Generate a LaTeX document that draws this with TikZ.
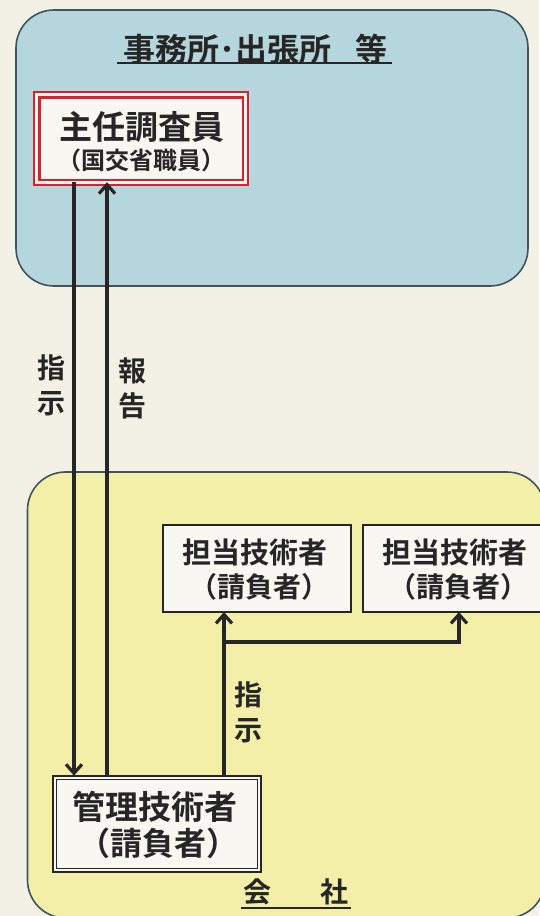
\documentclass[tikz,border=0pt]{standalone}
\usepackage{fontspec}
\setmainfont{Noto Sans CJK JP}[BoldFont={Noto Sans CJK JP Bold}]
\usetikzlibrary{arrows.meta}
\definecolor{paper}{HTML}{F3F1E6}
\definecolor{officebg}{HTML}{B4D6DC}
\definecolor{firmbg}{HTML}{F3EFA8}
\definecolor{regionln}{HTML}{3F545C}
\definecolor{redln}{HTML}{D8202E}
\definecolor{ink}{HTML}{262626}
\definecolor{boxfill}{HTML}{F8F7F2}
\tikzset{
  region/.style={rounded corners=38pt, line width=1.6pt, draw=regionln},
  person/.style={draw=ink, fill=boxfill, line width=2pt, inner sep=0pt},
  txt/.style={text=ink, inner sep=0pt, font=\bfseries\fontsize{#1}{#1}\selectfont},
  conn/.style={draw=ink, line width=3.6pt, -{Straight Barb[length=9pt,width=16pt,line width=3.2pt]}},
  vlabel/.style={align=center, inner sep=0pt, text=ink, font=\bfseries\fontsize{28}{35}\selectfont},
}
\begin{document}
\begin{tikzpicture}[x=1pt,y=-1pt]
\fill[paper] (0,0) rectangle (539,916);
\useasboundingbox (0,0) rectangle (539,916);
% regions
\draw[region, fill=officebg] (16,10) rectangle (528,286);
\draw[region, fill=firmbg] (27.5,472) rectangle (545,918);
% titles
\node[txt=32] (title) at (255,49) {事務所･出張所\hspace{24pt}等};
\draw[ink, line width=1.4pt] (117,63) -- (392,63);
\node[txt=28] (firm) at (296,892) {会\hspace{50pt}社};
\draw[ink, line width=1.4pt] (241,908) -- (351,908);
% chief investigator (double red frame)
\node[draw=redln, line width=2.4pt, fill=boxfill, minimum width=214pt, minimum height=93pt, inner sep=0pt] (chief) at (141,138.5) {};
\draw[redln, line width=2.4pt] ([xshift=6.5pt,yshift=-6.5pt]chief.north west) rectangle ([xshift=-6.5pt,yshift=6pt]chief.south east);
\node[txt=33] (chiefa) at (142,127) {主任調査員};
\node[txt=24] (chiefb) at (141,160) {（国交省職員）};
% manager (double black frame)
\node[person, line width=2.6pt, minimum width=208pt, minimum height=96pt] (mgr) at (157,824) {};
\draw[ink, line width=1.1pt] ([xshift=5pt,yshift=-5pt]mgr.north west) rectangle ([xshift=-5pt,yshift=5pt]mgr.south east);
\node[txt=33] (mgra) at (155,807) {管理技術者};
\node[txt=32] (mgrb) at (158,843) {（請負者）};
% engineers
\node[person, minimum width=188pt, minimum height=87pt] (eng1) at (257,568.5) {};
\node[txt=29] at (255,552) {担当技術者};
\node[txt=28] at (259,587) {（請負者）};
\node[person, minimum width=190pt, minimum height=87pt] (eng2) at (458,568.5) {};
\node[txt=29] at (455,552) {担当技術者};
\node[txt=28] at (458,587) {（請負者）};
% connectors
\coordinate (dtop) at (chief.south -| 74,0);
\coordinate (dbot) at (mgr.north -| 74,0);
\coordinate (utop) at (chief.south -| 107,0);
\coordinate (ubot) at (mgr.north -| 107,0);
\draw[conn] ([yshift=4pt]dtop) -- ([yshift=-1pt]dbot);
\draw[conn] (ubot) -- ([yshift=4pt]utop);
\coordinate (mtop) at (mgr.north -| 224,0);
\coordinate (e1b) at (eng1.south -| 224,0);
\coordinate (br) at (224,642);
\coordinate (e2b) at (eng2.south -| 459,0);
\draw[conn] (mtop) -- ([yshift=1pt]e1b);
\draw[conn] (br) -| ([yshift=1pt]e2b);
% labels
\node[vlabel] (l1) at (51,385) {指\\示};
\node[vlabel] (l2) at (132,388) {報\\告};
\node[vlabel] (l3) at (248,712) {指\\示};
\end{tikzpicture}
\end{document}
